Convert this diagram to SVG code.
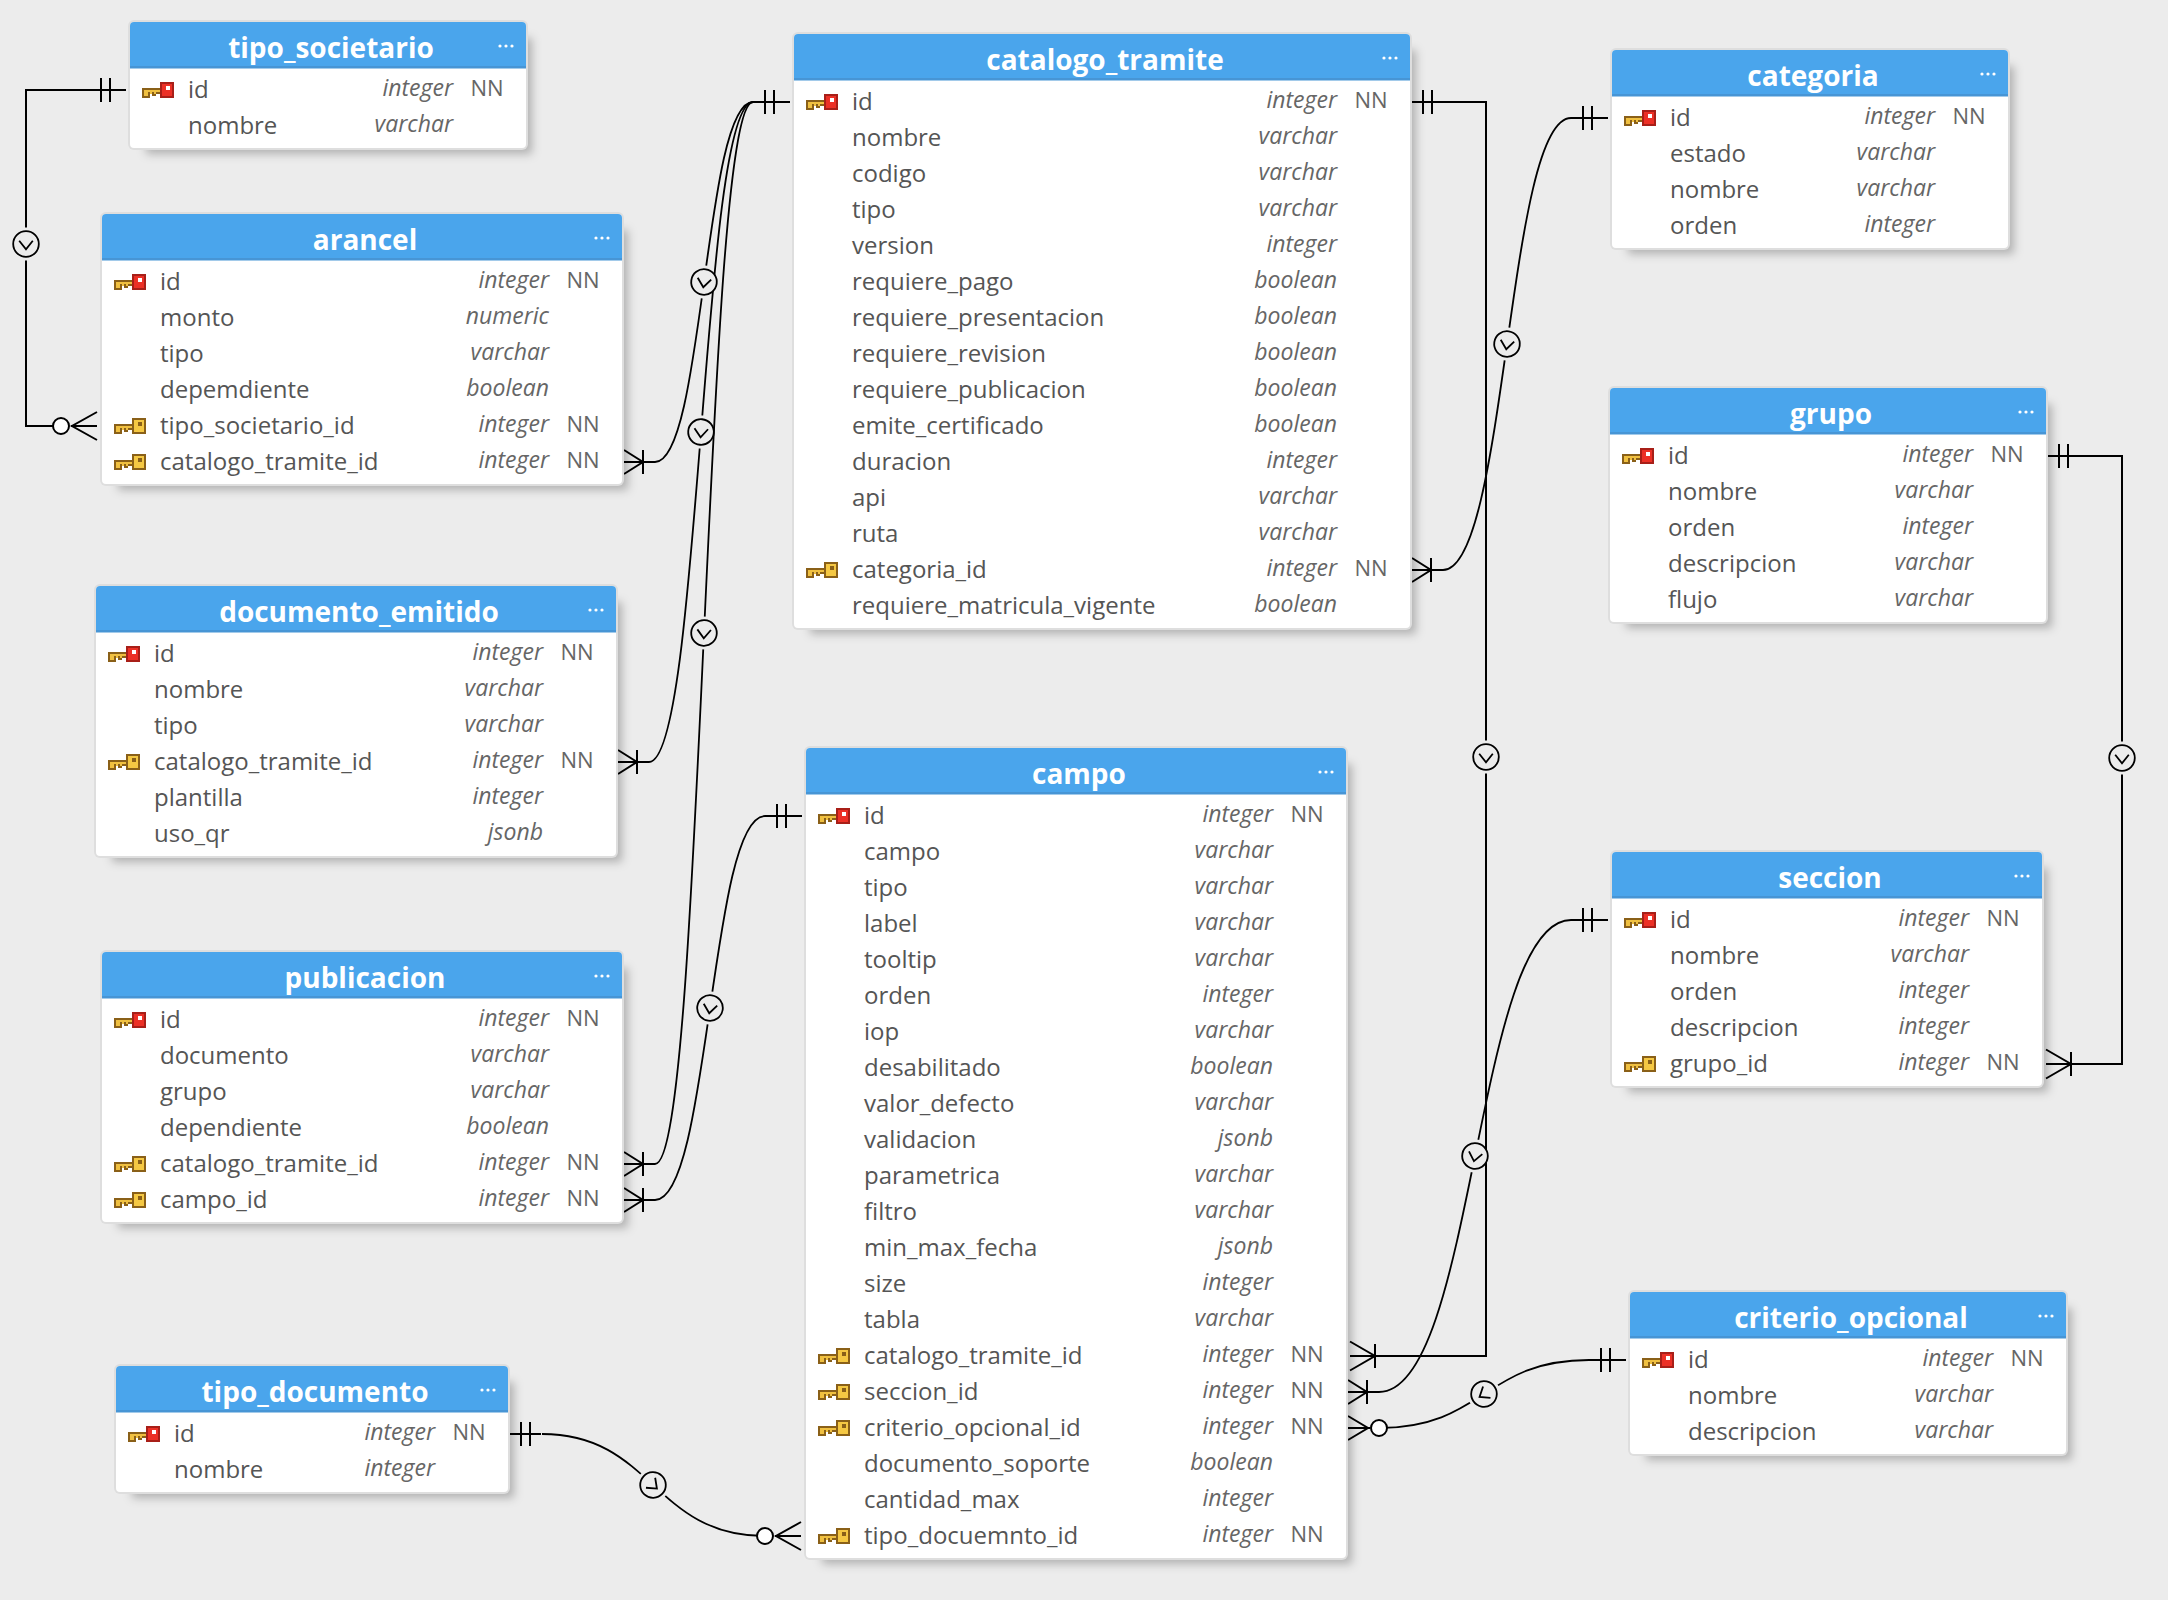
<svg xmlns="http://www.w3.org/2000/svg" width="2168" height="1600" viewBox="0 0 2168 1600">
<style>
text{font-family:"Open Sans","Noto Sans",sans-serif}
.ti{font-size:28px;font-weight:700;fill:#fff;text-anchor:middle}
.n{font-size:24px;fill:#555}
.t{font-size:23px;font-style:italic;fill:#666;text-anchor:end;transform:translateX(1px)}
.nn{font-size:22px;fill:#666;transform:translateX(-.5px)}
.sh{fill:#000;fill-opacity:.25;filter:url(#blur)}
.bd{fill:#dedede}
.bg{fill:#fff}
.hd{fill:#4aa5ec}
.hl{fill:#4795d5}
.dot{fill:#fff}
.l{fill:none;stroke:#000;stroke-width:2}
.c{fill:none;stroke:#000;stroke-width:1.8}
.gap{stroke:#ececec;stroke-width:5}
.mk{fill:#ececec;stroke:#000;stroke-width:1.8}
.v{fill:none;stroke:#000;stroke-width:1.8}
.o{fill:#fff;stroke:#000;stroke-width:2}
.kb{fill:#8a6018}
.ky{fill:#f0c040}
</style>
<defs>
<filter id="blur" x="-20%" y="-20%" width="140%" height="140%"><feGaussianBlur stdDeviation="5"/></filter>
<g id="keybase">
<path class="kb" d="M0 6H18V12H14V14H10V12H12V14H10V12H8V16H0Z"/>
<path class="ky" d="M2 8H20V10H14V12H12V10H10V12H8V10H6V14H2Z"/>
</g>
<g id="pk"><use href="#keybase"/><rect x="18" y="0" width="14" height="16" fill="#a81f18"/><rect x="20" y="2" width="10" height="12" fill="#ec3026"/><rect x="24" y="4" width="4" height="4" fill="#fff"/></g>
<g id="fk"><use href="#keybase"/><rect x="18" y="0" width="14" height="16" fill="#8a6018"/><rect x="20" y="2" width="10" height="12" fill="#f5c843"/><rect x="24" y="4" width="4" height="4" fill="#8a6018"/></g>
<g id="menu"><circle cx="-26" cy="0" r="1.6"/><circle cx="-20" cy="0" r="1.6"/><circle cx="-14" cy="0" r="1.6"/></g>
<g id="oneL"><path class="l" d="M0 0H-37M-25 -12V12M-16 -12V12"/></g>
<g id="oneR"><path class="l" d="M0 0H31M11 -12V12M20 -12V12"/></g>
<g id="mR"><path class="l" d="M0 0H31M0 -12L19 0L0 12M19 -12V12"/></g>
<g id="mRo"><path class="l" d="M0 0H25M0 -14.5L25 0L0 14.5M25 -12V12"/></g>
<g id="mzR"><path class="l" d="M0 0H22M0 -12L20 0L0 12"/><circle class="o" cx="31" cy="0" r="8"/></g>
<g id="mzL"><path class="l" d="M0 0H-26M0 -14L-25 0L0 14"/><circle class="o" cx="-36" cy="0" r="8"/></g>
<g id="card"><line class="gap" x1="0" y1="-16.5" x2="0" y2="16.5"/><circle class="mk" r="12.8"/><path class="v" d="M-6.8 -3.3L0 5.3L6.8 -3.3"/></g>
</defs>
<rect width="2168" height="1600" fill="#ececec"/>
<g id="connectors">
<path class="l" d="M89 90H26V426H56"/>
<path class="l" d="M1443 102H1486V1356H1375"/>
<path class="l" d="M2079 456H2122V1064H2071"/>
<path class="c" d="M655 462C704 462 704 102 753 102"/>
<path class="c" d="M649 762C701 762 701 102 753 102"/>
<path class="c" d="M655 1164C704 1164 704 102 753 102"/>
<path class="c" d="M655 1200C710 1200 710 816 765 816"/>
<path class="c" d="M1443 570C1507 570 1507 118 1571 118"/>
<path class="c" d="M1379 1392C1475 1392 1475 920 1571 920"/>
<path class="c" d="M1379 1428C1484 1428 1484 1360 1589 1360"/>
<path class="c" d="M542 1434C653 1434 653 1536 765 1536"/>
<use href="#oneL" x="126" y="90"/><use href="#mzL" x="97" y="426"/>
<use href="#oneR" x="1412" y="102"/><use href="#mRo" x="1350" y="1356"/>
<use href="#oneR" x="2048" y="456"/><use href="#mRo" x="2046" y="1064"/>
<use href="#oneL" x="790" y="102"/>
<use href="#mR" x="624" y="462"/><use href="#mR" x="618" y="762"/><use href="#mR" x="624" y="1164"/><use href="#mR" x="624" y="1200"/>
<use href="#oneL" x="802" y="816"/>
<use href="#mR" x="1412" y="570"/><use href="#oneL" x="1608" y="118"/>
<use href="#mR" x="1348" y="1392"/><use href="#oneL" x="1608" y="920"/>
<use href="#mzR" x="1348" y="1428"/><use href="#oneL" x="1626" y="1360"/>
<use href="#oneR" x="510" y="1434"/><use href="#mzL" x="801" y="1536"/>
<use href="#card" transform="translate(26,244)"/>
<use href="#card" transform="translate(1486,757)"/>
<use href="#card" transform="translate(2122,758)"/>
<use href="#card" transform="translate(704,282) rotate(7.75)"/>
<use href="#card" transform="translate(701,432) rotate(4.5)"/>
<use href="#card" transform="translate(704,633) rotate(2.6)"/>
<use href="#card" transform="translate(710,1008) rotate(8.2)"/>
<use href="#card" transform="translate(1507,344) rotate(8)"/>
<use href="#card" transform="translate(1475,1156) rotate(11.5)"/>
<use href="#card" transform="translate(1484,1394) rotate(57)"/>
<use href="#card" transform="translate(653,1485) rotate(-47.4)"/>
</g>
<g id="tipo_societario" transform="translate(130,22)">
<rect class="sh" x="16" y="16" width="386" height="116"/><rect class="bd" x="-2" y="-2" width="400" height="130" rx="6"/><rect class="bg" width="396" height="126" rx="4"/>
<path class="hd" d="M0 46V4a4 4 0 0 1 4-4H392a4 4 0 0 1 4 4V46z"/><rect class="hl" y="44" width="396" height="2.5"/>
<text class="ti" x="201" y="36">tipo_societario</text><use href="#menu" class="dot" x="396" y="24"/>
<use href="#pk" x="12" y="60"/><text class="n" x="58" y="76">id</text><text class="t" x="322" y="74">integer</text><text class="nn" x="341" y="74">NN</text>
<text class="n" x="58" y="112">nombre</text><text class="t" x="322" y="110">varchar</text>
</g>
<g id="arancel" transform="translate(102,214)">
<rect class="sh" x="16" y="16" width="510" height="260"/><rect class="bd" x="-2" y="-2" width="524" height="274" rx="6"/><rect class="bg" width="520" height="270" rx="4"/>
<path class="hd" d="M0 46V4a4 4 0 0 1 4-4H516a4 4 0 0 1 4 4V46z"/><rect class="hl" y="44" width="520" height="2.5"/>
<text class="ti" x="263" y="36">arancel</text><use href="#menu" class="dot" x="520" y="24"/>
<use href="#pk" x="12" y="60"/><text class="n" x="58" y="76">id</text><text class="t" x="446" y="74">integer</text><text class="nn" x="465" y="74">NN</text>
<text class="n" x="58" y="112">monto</text><text class="t" x="446" y="110">numeric</text>
<text class="n" x="58" y="148">tipo</text><text class="t" x="446" y="146">varchar</text>
<text class="n" x="58" y="184">depemdiente</text><text class="t" x="446" y="182">boolean</text>
<use href="#fk" x="12" y="204"/><text class="n" x="58" y="220">tipo_societario_id</text><text class="t" x="446" y="218">integer</text><text class="nn" x="465" y="218">NN</text>
<use href="#fk" x="12" y="240"/><text class="n" x="58" y="256">catalogo_tramite_id</text><text class="t" x="446" y="254">integer</text><text class="nn" x="465" y="254">NN</text>
</g>
<g id="documento_emitido" transform="translate(96,586)">
<rect class="sh" x="16" y="16" width="510" height="260"/><rect class="bd" x="-2" y="-2" width="524" height="274" rx="6"/><rect class="bg" width="520" height="270" rx="4"/>
<path class="hd" d="M0 46V4a4 4 0 0 1 4-4H516a4 4 0 0 1 4 4V46z"/><rect class="hl" y="44" width="520" height="2.5"/>
<text class="ti" x="263" y="36">documento_emitido</text><use href="#menu" class="dot" x="520" y="24"/>
<use href="#pk" x="12" y="60"/><text class="n" x="58" y="76">id</text><text class="t" x="446" y="74">integer</text><text class="nn" x="465" y="74">NN</text>
<text class="n" x="58" y="112">nombre</text><text class="t" x="446" y="110">varchar</text>
<text class="n" x="58" y="148">tipo</text><text class="t" x="446" y="146">varchar</text>
<use href="#fk" x="12" y="168"/><text class="n" x="58" y="184">catalogo_tramite_id</text><text class="t" x="446" y="182">integer</text><text class="nn" x="465" y="182">NN</text>
<text class="n" x="58" y="220">plantilla</text><text class="t" x="446" y="218">integer</text>
<text class="n" x="58" y="256">uso_qr</text><text class="t" x="446" y="254">jsonb</text>
</g>
<g id="publicacion" transform="translate(102,952)">
<rect class="sh" x="16" y="16" width="510" height="260"/><rect class="bd" x="-2" y="-2" width="524" height="274" rx="6"/><rect class="bg" width="520" height="270" rx="4"/>
<path class="hd" d="M0 46V4a4 4 0 0 1 4-4H516a4 4 0 0 1 4 4V46z"/><rect class="hl" y="44" width="520" height="2.5"/>
<text class="ti" x="263" y="36">publicacion</text><use href="#menu" class="dot" x="520" y="24"/>
<use href="#pk" x="12" y="60"/><text class="n" x="58" y="76">id</text><text class="t" x="446" y="74">integer</text><text class="nn" x="465" y="74">NN</text>
<text class="n" x="58" y="112">documento</text><text class="t" x="446" y="110">varchar</text>
<text class="n" x="58" y="148">grupo</text><text class="t" x="446" y="146">varchar</text>
<text class="n" x="58" y="184">dependiente</text><text class="t" x="446" y="182">boolean</text>
<use href="#fk" x="12" y="204"/><text class="n" x="58" y="220">catalogo_tramite_id</text><text class="t" x="446" y="218">integer</text><text class="nn" x="465" y="218">NN</text>
<use href="#fk" x="12" y="240"/><text class="n" x="58" y="256">campo_id</text><text class="t" x="446" y="254">integer</text><text class="nn" x="465" y="254">NN</text>
</g>
<g id="tipo_documento" transform="translate(116,1366)">
<rect class="sh" x="16" y="16" width="382" height="116"/><rect class="bd" x="-2" y="-2" width="396" height="130" rx="6"/><rect class="bg" width="392" height="126" rx="4"/>
<path class="hd" d="M0 46V4a4 4 0 0 1 4-4H388a4 4 0 0 1 4 4V46z"/><rect class="hl" y="44" width="392" height="2.5"/>
<text class="ti" x="199" y="36">tipo_documento</text><use href="#menu" class="dot" x="392" y="24"/>
<use href="#pk" x="12" y="60"/><text class="n" x="58" y="76">id</text><text class="t" x="318" y="74">integer</text><text class="nn" x="337" y="74">NN</text>
<text class="n" x="58" y="112">nombre</text><text class="t" x="318" y="110">integer</text>
</g>
<g id="catalogo_tramite" transform="translate(794,34)">
<rect class="sh" x="16" y="16" width="606" height="584"/><rect class="bd" x="-2" y="-2" width="620" height="598" rx="6"/><rect class="bg" width="616" height="594" rx="4"/>
<path class="hd" d="M0 46V4a4 4 0 0 1 4-4H612a4 4 0 0 1 4 4V46z"/><rect class="hl" y="44" width="616" height="2.5"/>
<text class="ti" x="311" y="36">catalogo_tramite</text><use href="#menu" class="dot" x="616" y="24"/>
<use href="#pk" x="12" y="60"/><text class="n" x="58" y="76">id</text><text class="t" x="542" y="74">integer</text><text class="nn" x="561" y="74">NN</text>
<text class="n" x="58" y="112">nombre</text><text class="t" x="542" y="110">varchar</text>
<text class="n" x="58" y="148">codigo</text><text class="t" x="542" y="146">varchar</text>
<text class="n" x="58" y="184">tipo</text><text class="t" x="542" y="182">varchar</text>
<text class="n" x="58" y="220">version</text><text class="t" x="542" y="218">integer</text>
<text class="n" x="58" y="256">requiere_pago</text><text class="t" x="542" y="254">boolean</text>
<text class="n" x="58" y="292">requiere_presentacion</text><text class="t" x="542" y="290">boolean</text>
<text class="n" x="58" y="328">requiere_revision</text><text class="t" x="542" y="326">boolean</text>
<text class="n" x="58" y="364">requiere_publicacion</text><text class="t" x="542" y="362">boolean</text>
<text class="n" x="58" y="400">emite_certificado</text><text class="t" x="542" y="398">boolean</text>
<text class="n" x="58" y="436">duracion</text><text class="t" x="542" y="434">integer</text>
<text class="n" x="58" y="472">api</text><text class="t" x="542" y="470">varchar</text>
<text class="n" x="58" y="508">ruta</text><text class="t" x="542" y="506">varchar</text>
<use href="#fk" x="12" y="528"/><text class="n" x="58" y="544">categoria_id</text><text class="t" x="542" y="542">integer</text><text class="nn" x="561" y="542">NN</text>
<text class="n" x="58" y="580">requiere_matricula_vigente</text><text class="t" x="542" y="578">boolean</text>
</g>
<g id="categoria" transform="translate(1612,50)">
<rect class="sh" x="16" y="16" width="386" height="188"/><rect class="bd" x="-2" y="-2" width="400" height="202" rx="6"/><rect class="bg" width="396" height="198" rx="4"/>
<path class="hd" d="M0 46V4a4 4 0 0 1 4-4H392a4 4 0 0 1 4 4V46z"/><rect class="hl" y="44" width="396" height="2.5"/>
<text class="ti" x="201" y="36">categoria</text><use href="#menu" class="dot" x="396" y="24"/>
<use href="#pk" x="12" y="60"/><text class="n" x="58" y="76">id</text><text class="t" x="322" y="74">integer</text><text class="nn" x="341" y="74">NN</text>
<text class="n" x="58" y="112">estado</text><text class="t" x="322" y="110">varchar</text>
<text class="n" x="58" y="148">nombre</text><text class="t" x="322" y="146">varchar</text>
<text class="n" x="58" y="184">orden</text><text class="t" x="322" y="182">integer</text>
</g>
<g id="grupo" transform="translate(1610,388)">
<rect class="sh" x="16" y="16" width="426" height="224"/><rect class="bd" x="-2" y="-2" width="440" height="238" rx="6"/><rect class="bg" width="436" height="234" rx="4"/>
<path class="hd" d="M0 46V4a4 4 0 0 1 4-4H432a4 4 0 0 1 4 4V46z"/><rect class="hl" y="44" width="436" height="2.5"/>
<text class="ti" x="221" y="36">grupo</text><use href="#menu" class="dot" x="436" y="24"/>
<use href="#pk" x="12" y="60"/><text class="n" x="58" y="76">id</text><text class="t" x="362" y="74">integer</text><text class="nn" x="381" y="74">NN</text>
<text class="n" x="58" y="112">nombre</text><text class="t" x="362" y="110">varchar</text>
<text class="n" x="58" y="148">orden</text><text class="t" x="362" y="146">integer</text>
<text class="n" x="58" y="184">descripcion</text><text class="t" x="362" y="182">varchar</text>
<text class="n" x="58" y="220">flujo</text><text class="t" x="362" y="218">varchar</text>
</g>
<g id="seccion" transform="translate(1612,852)">
<rect class="sh" x="16" y="16" width="420" height="224"/><rect class="bd" x="-2" y="-2" width="434" height="238" rx="6"/><rect class="bg" width="430" height="234" rx="4"/>
<path class="hd" d="M0 46V4a4 4 0 0 1 4-4H426a4 4 0 0 1 4 4V46z"/><rect class="hl" y="44" width="430" height="2.5"/>
<text class="ti" x="218" y="36">seccion</text><use href="#menu" class="dot" x="430" y="24"/>
<use href="#pk" x="12" y="60"/><text class="n" x="58" y="76">id</text><text class="t" x="356" y="74">integer</text><text class="nn" x="375" y="74">NN</text>
<text class="n" x="58" y="112">nombre</text><text class="t" x="356" y="110">varchar</text>
<text class="n" x="58" y="148">orden</text><text class="t" x="356" y="146">integer</text>
<text class="n" x="58" y="184">descripcion</text><text class="t" x="356" y="182">integer</text>
<use href="#fk" x="12" y="204"/><text class="n" x="58" y="220">grupo_id</text><text class="t" x="356" y="218">integer</text><text class="nn" x="375" y="218">NN</text>
</g>
<g id="campo" transform="translate(806,748)">
<rect class="sh" x="16" y="16" width="530" height="800"/><rect class="bd" x="-2" y="-2" width="544" height="814" rx="6"/><rect class="bg" width="540" height="810" rx="4"/>
<path class="hd" d="M0 46V4a4 4 0 0 1 4-4H536a4 4 0 0 1 4 4V46z"/><rect class="hl" y="44" width="540" height="2.5"/>
<text class="ti" x="273" y="36">campo</text><use href="#menu" class="dot" x="540" y="24"/>
<use href="#pk" x="12" y="60"/><text class="n" x="58" y="76">id</text><text class="t" x="466" y="74">integer</text><text class="nn" x="485" y="74">NN</text>
<text class="n" x="58" y="112">campo</text><text class="t" x="466" y="110">varchar</text>
<text class="n" x="58" y="148">tipo</text><text class="t" x="466" y="146">varchar</text>
<text class="n" x="58" y="184">label</text><text class="t" x="466" y="182">varchar</text>
<text class="n" x="58" y="220">tooltip</text><text class="t" x="466" y="218">varchar</text>
<text class="n" x="58" y="256">orden</text><text class="t" x="466" y="254">integer</text>
<text class="n" x="58" y="292">iop</text><text class="t" x="466" y="290">varchar</text>
<text class="n" x="58" y="328">desabilitado</text><text class="t" x="466" y="326">boolean</text>
<text class="n" x="58" y="364">valor_defecto</text><text class="t" x="466" y="362">varchar</text>
<text class="n" x="58" y="400">validacion</text><text class="t" x="466" y="398">jsonb</text>
<text class="n" x="58" y="436">parametrica</text><text class="t" x="466" y="434">varchar</text>
<text class="n" x="58" y="472">filtro</text><text class="t" x="466" y="470">varchar</text>
<text class="n" x="58" y="508">min_max_fecha</text><text class="t" x="466" y="506">jsonb</text>
<text class="n" x="58" y="544">size</text><text class="t" x="466" y="542">integer</text>
<text class="n" x="58" y="580">tabla</text><text class="t" x="466" y="578">varchar</text>
<use href="#fk" x="12" y="600"/><text class="n" x="58" y="616">catalogo_tramite_id</text><text class="t" x="466" y="614">integer</text><text class="nn" x="485" y="614">NN</text>
<use href="#fk" x="12" y="636"/><text class="n" x="58" y="652">seccion_id</text><text class="t" x="466" y="650">integer</text><text class="nn" x="485" y="650">NN</text>
<use href="#fk" x="12" y="672"/><text class="n" x="58" y="688">criterio_opcional_id</text><text class="t" x="466" y="686">integer</text><text class="nn" x="485" y="686">NN</text>
<text class="n" x="58" y="724">documento_soporte</text><text class="t" x="466" y="722">boolean</text>
<text class="n" x="58" y="760">cantidad_max</text><text class="t" x="466" y="758">integer</text>
<use href="#fk" x="12" y="780"/><text class="n" x="58" y="796">tipo_docuemnto_id</text><text class="t" x="466" y="794">integer</text><text class="nn" x="485" y="794">NN</text>
</g>
<g id="criterio_opcional" transform="translate(1630,1292)">
<rect class="sh" x="16" y="16" width="426" height="152"/><rect class="bd" x="-2" y="-2" width="440" height="166" rx="6"/><rect class="bg" width="436" height="162" rx="4"/>
<path class="hd" d="M0 46V4a4 4 0 0 1 4-4H432a4 4 0 0 1 4 4V46z"/><rect class="hl" y="44" width="436" height="2.5"/>
<text class="ti" x="221" y="36">criterio_opcional</text><use href="#menu" class="dot" x="436" y="24"/>
<use href="#pk" x="12" y="60"/><text class="n" x="58" y="76">id</text><text class="t" x="362" y="74">integer</text><text class="nn" x="381" y="74">NN</text>
<text class="n" x="58" y="112">nombre</text><text class="t" x="362" y="110">varchar</text>
<text class="n" x="58" y="148">descripcion</text><text class="t" x="362" y="146">varchar</text>
</g>
</svg>
